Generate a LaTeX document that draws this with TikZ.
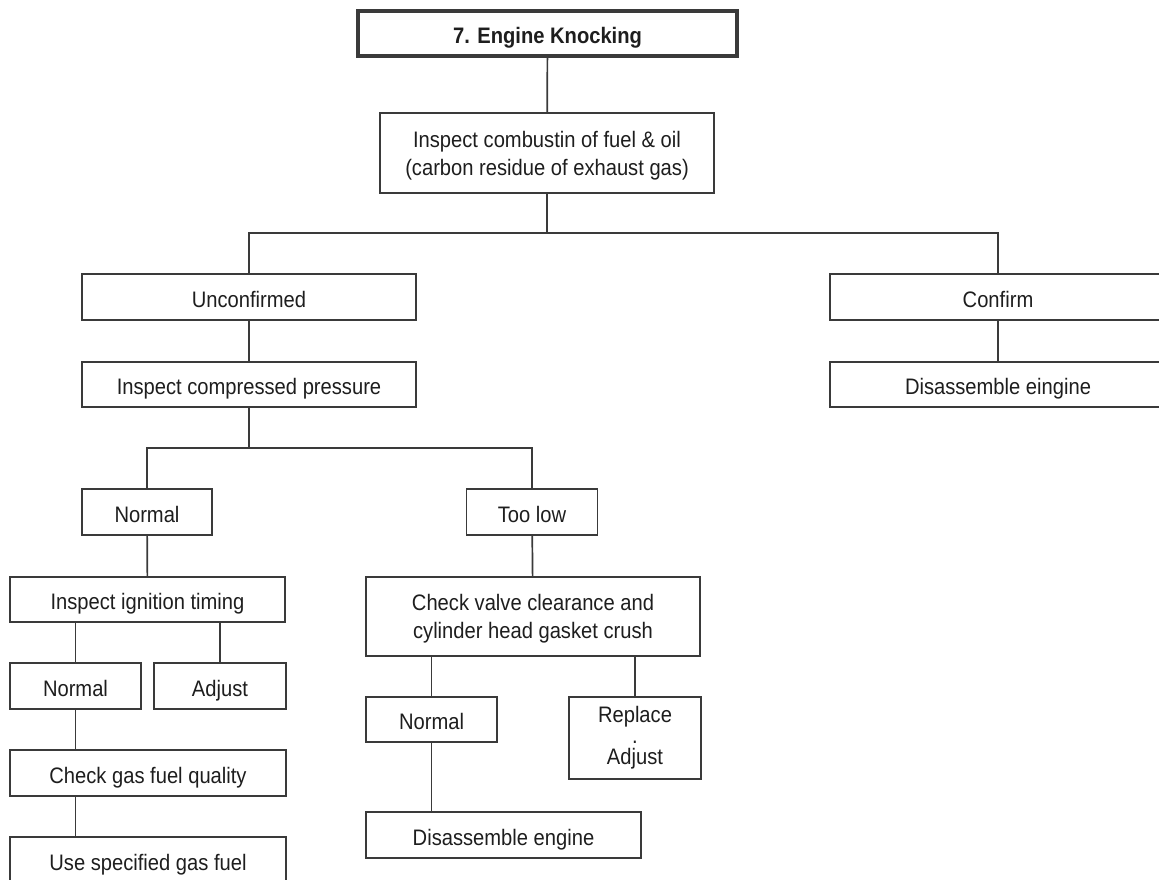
\documentclass[tikz,border=0pt]{standalone}
\usepackage{fontspec}
\setmainfont{Liberation Sans}[FakeStretch=0.9]
\definecolor{lineGray}{HTML}{3A3A3A}
\definecolor{textDark}{HTML}{1E1E1E}
\usepackage{tikz}
\usetikzlibrary{positioning}
\tikzset{
  flowBox/.style={draw=lineGray, line width=0.85pt, fill=white, text=textDark,
    align=center, inner sep=0pt, font=\fontsize{11.2}{14}\selectfont},
  oneLine/.style={text height=11pt, text depth=1pt},
  titleBox/.style={flowBox, oneLine, line width=1.6pt, font=\fontsize{11.2}{14}\selectfont\bfseries},
  link/.style={draw=lineGray, line width=0.85pt}
}
\newcommand{\boxAt}[7][oneLine]{\node[flowBox, #1, minimum width=#5*0.5pt, minimum height=#6*0.5pt] (#2) at (#3,#4) {#7};}
\newcommand{\topStrut}{\rule{0pt}{10.5pt}}

\begin{document}
\begin{tikzpicture}[x=0.5pt, y=-0.5pt]
        \useasboundingbox (0,0) rectangle (1159,879);
        \clip (0,0) rectangle (1159,879);
        % top of the chart
        \node[titleBox, minimum width=189.5pt, minimum height=22.5pt] (engKnock) at (547.5,33.5) {7. Engine Knocking};
        \boxAt[]{combust}{547}{153}{334}{80}{\topStrut Inspect combustin of fuel \& oil\\(carbon residue of exhaust gas)}
        \boxAt{unconf}{249}{297}{334}{46}{Unconfirmed}
        \boxAt{confirm}{998}{297}{336}{46}{Confirm}
        \boxAt{compPress}{249}{384.5}{334}{45}{Inspect compressed pressure}
        \boxAt{disEigine}{998}{384.5}{336}{45}{Disassemble eingine}
        % compressed pressure branch
        \boxAt{normalA}{147}{512}{130}{46}{Normal}
        \boxAt{tooLow}{532}{512}{131}{46}{Too low}
        \boxAt{ignTiming}{147.5}{599.5}{275}{45}{Inspect ignition timing}
        \boxAt[]{valveCheck}{533}{616.5}{334}{79}{\topStrut Check valve clearance and\\cylinder head gasket crush}
        \boxAt{normalB}{75.5}{686}{131}{46}{Normal}
        \boxAt{adjustA}{220}{686}{132}{46}{Adjust}
        \boxAt{normalC}{431.5}{719.5}{131}{45}{Normal}
        \boxAt[]{replAdj}{635}{738}{132}{82}{Replace\\[-3.5pt].\\[-3.5pt]Adjust}
        \boxAt{gasQuality}{148}{773}{276}{46}{Check gas fuel quality}
        \boxAt{useGas}{148}{860}{276}{46}{Use specified gas fuel}
        \boxAt{disEngine}{503.5}{835}{275}{46}{Disassemble engine}
        % connectors
        \coordinate (splitA) at (547,233);
        \coordinate (splitB) at (249,448);
        \draw[link] (engKnock) -- (combust);
        \draw[link] (combust) -- (splitA);
        \draw[link] (unconf.north) |- (splitA) -| (confirm.north);
        \draw[link] (unconf) -- (compPress);
        \draw[link] (confirm) -- (disEigine);
        \draw[link] (compPress) -- (splitB);
        \draw[link] (normalA.north) |- (splitB) -| (tooLow.north);
        \draw[link] (normalA) -- (ignTiming);
        \draw[link] (tooLow) -- (valveCheck);
        \draw[link] (normalB.north |- ignTiming.south) -- (normalB.north);
        \draw[link] (adjustA.north |- ignTiming.south) -- (adjustA.north);
        \draw[link] (normalC.north |- valveCheck.south) -- (normalC.north);
        \draw[link] (replAdj.north |- valveCheck.south) -- (replAdj.north);
        \draw[link] (normalB.south) -- (normalB.south |- gasQuality.north);
        \draw[link] (gasQuality.south -| normalB) -- (useGas.north -| normalB);
        \draw[link] (normalC.south) -- (normalC.south |- disEngine.north);
      \end{tikzpicture}
\end{document}
